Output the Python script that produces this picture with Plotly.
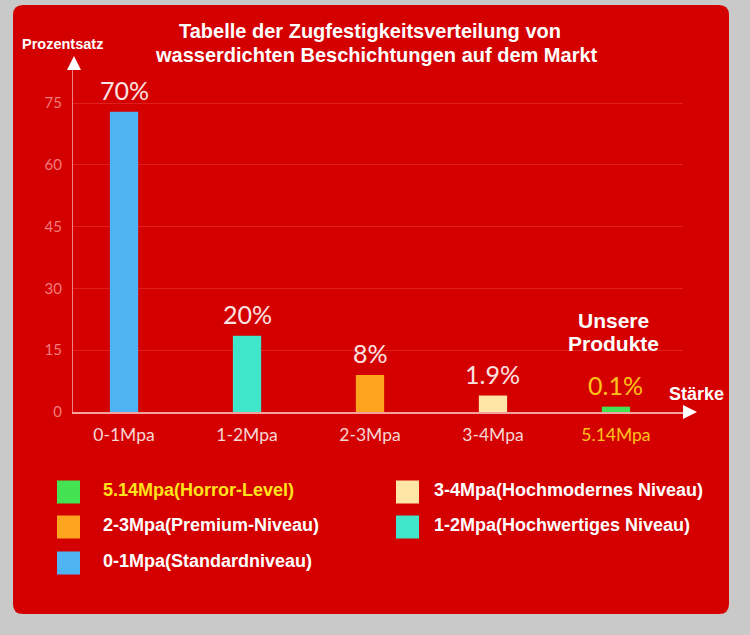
import plotly.graph_objects as go

# ---- data ----
categories = ["0-1Mpa", "1-2Mpa", "2-3Mpa", "3-4Mpa", "5.14Mpa"]
bar_heights = [72.9, 18.5, 9.0, 4.0, 1.3]          # drawn bar heights
value_labels = ["70%", "20%", "8%", "1.9%", "0.1%"]
bar_colors = ["#4fb4f2", "#3fe6c9", "#ffa41f", "#ffe6a6", "#44e354"]
label_colors = ["#fbe3e3", "#fbe3e3", "#fbe3e3", "#fbe3e3", "#ffc21a"]
tick_colors = ["#f7d6d6", "#f7d6d6", "#f7d6d6", "#f7d6d6", "#ffc21a"]
y_ticks = [0, 15, 30, 45, 60, 75]
legend_items = [
    ("5.14Mpa(Horror-Level)", "#44e354", "#ffe21a", 0, 0),
    ("3-4Mpa(Hochmodernes Niveau)", "#ffe6a6", "white", 1, 0),
    ("2-3Mpa(Premium-Niveau)", "#ffa41f", "white", 0, 1),
    ("1-2Mpa(Hochwertiges Niveau)", "#3fe6c9", "white", 1, 1),
    ("0-1Mpa(Standardniveau)", "#4fb4f2", "white", 0, 2),
]

W, H = 750, 635
L, R, T, B = 73, 67, 62, 223
PW, PH = W - L - R, H - T - B


def px(x):
    return (x - L) / PW


def py(y):
    return (H - B - y) / PH


fig = go.Figure()
fig.add_trace(go.Bar(
    x=categories, y=bar_heights, marker=dict(color=bar_colors, line=dict(width=0)),
    width=0.23, showlegend=False, hoverinfo="skip",
))

shapes = []
# red rounded panel
x0, x1, y0, y1, r = 13, 729, 5, 614, 10
path = (f"M {px(x0+r)},{py(y0)} L {px(x1-r)},{py(y0)} Q {px(x1)},{py(y0)} {px(x1)},{py(y0+r)} "
        f"L {px(x1)},{py(y1-r)} Q {px(x1)},{py(y1)} {px(x1-r)},{py(y1)} "
        f"L {px(x0+r)},{py(y1)} Q {px(x0)},{py(y1)} {px(x0)},{py(y1-r)} "
        f"L {px(x0)},{py(y0+r)} Q {px(x0)},{py(y0)} {px(x0+r)},{py(y0)} Z")
shapes.append(dict(type="path", path=path, xref="paper", yref="paper", layer="below",
                   fillcolor="#d40000", line=dict(width=0)))
# axis arrows
shapes.append(dict(type="path", xref="paper", yref="paper",
                   path=f"M {px(74)},{py(56)} L {px(81)},{py(70)} L {px(67)},{py(70)} Z",
                   fillcolor="white", line=dict(width=0)))
shapes.append(dict(type="path", xref="paper", yref="paper",
                   path=f"M {px(697)},{py(412)} L {px(683)},{py(405)} L {px(683)},{py(419)} Z",
                   fillcolor="white", line=dict(width=0)))

annotations = []
for cat, h, lab, col in zip(categories, bar_heights, value_labels, label_colors):
    annotations.append(dict(x=cat, y=h, xref="x", yref="y", text=lab, showarrow=False,
                            xanchor="center", yanchor="bottom", yshift=5,
                            font=dict(family="Lato", size=25, color=col)))

bold = "Liberation Sans"


def txt(x, y, text, size, color="white", xanchor="center"):
    return dict(x=px(x), y=py(y), xref="paper", yref="paper", showarrow=False,
                xanchor=xanchor, yanchor="middle", text=f"<b>{text}</b>",
                font=dict(family=bold, size=size, color=color))


annotations += [
    txt(370, 31, "Tabelle der Zugfestigkeitsverteilung von", 20),
    txt(376, 55, "wasserdichten Beschichtungen auf dem Markt", 20),
    txt(20, 44, "Prozentsatz", 14.5, xanchor="left"),
    txt(613, 320, "Unsere", 21),
    txt(613, 343, "Produkte", 21),
    txt(667, 394, "Stärke", 18, xanchor="left"),
]

# legend
col_sq = [57, 396]
col_tx = [101, 432]
row_y = [492, 527, 563]
for text, fill, tcol, c, rr in legend_items:
    yc = row_y[rr]
    shapes.append(dict(type="rect", xref="paper", yref="paper",
                       x0=px(col_sq[c]), x1=px(col_sq[c] + 23),
                       y0=py(yc - 11.5), y1=py(yc + 11.5),
                       fillcolor=fill, line=dict(width=0)))
    annotations.append(txt(col_tx[c], yc - 2, text, 18, color=tcol, xanchor="left"))

ticktext = [f'<span style="color:{c}">{t}</span>' for t, c in zip(categories, tick_colors)]

fig.update_layout(
    width=W, height=H, margin=dict(l=L, r=R, t=T, b=B, autoexpand=False),
    paper_bgcolor="#c9c9c9", plot_bgcolor="rgba(0,0,0,0)",
    shapes=shapes, annotations=annotations, showlegend=False,
    xaxis=dict(type="category", range=[-0.415, 4.545], tickmode="array",
               tickvals=categories, ticktext=ticktext, showgrid=False,
               showline=True, linecolor="rgba(255,215,215,0.75)", linewidth=1.5,
               ticks="", ticklabelstandoff=6,
               tickfont=dict(family="Lato", size=17.5, color="#f7d6d6"), fixedrange=True),
    yaxis=dict(range=[0, 85], tickvals=y_ticks, showgrid=True,
               gridcolor="rgba(255,110,110,0.28)", gridwidth=1, zeroline=False,
               showline=True, linecolor="rgba(255,215,215,0.6)", linewidth=1.2,
               ticks="", ticklabelstandoff=7,
               tickfont=dict(family="Lato", size=15, color="#f27b7b"), fixedrange=True),
)

fig.write_html("out.html")
